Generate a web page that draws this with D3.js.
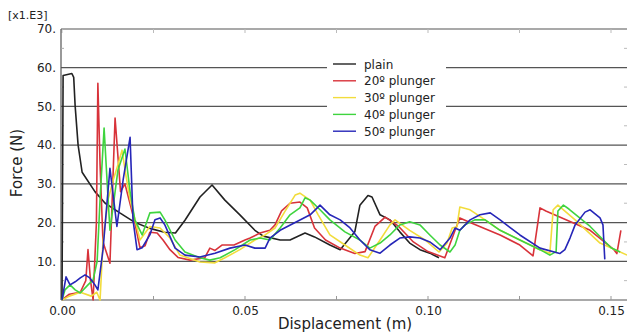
<!DOCTYPE html>
<html>
<head>
<meta charset="utf-8">
<script src="https://cdn.jsdelivr.net/npm/d3@7"></script>
<style>
  body { margin: 0; background: #fff; }
  text { font-family: "DejaVu Sans", Verdana, sans-serif; fill: #222; }
</style>
</head>
<body>
<div id="canvas"></div>
<script>
// force in x1.E3 N, displacement in m
const yTicks = [10, 20, 30, 40, 50, 60, 70];
const xTicks = [0, 0.05, 0.10, 0.15];
const seriesNames = ["plain", "20º plunger", "30º plunger", "40º plunger", "50º plunger"];
const seriesColors = ["#222222", "#d8333a", "#f2dc3c", "#3fd43f", "#2626b8"];

const plain = [[0,0],[0.0003,58],[0.0027,58.5],[0.0032,57.5],[0.0036,50],[0.0044,40],[0.0055,33],[0.009,28],[0.0118,25],[0.0158,22.5],[0.02,20],[0.024,18.5],[0.028,17.5],[0.031,17.3],[0.0336,20.6],[0.0377,26.6],[0.041,29.7],[0.0445,25.8],[0.0486,22],[0.0527,18],[0.055,16.5],[0.0596,15.5],[0.0623,15.5],[0.0664,17.3],[0.069,16.3],[0.0732,14.2],[0.076,13],[0.08,17.6],[0.0814,24.5],[0.0836,27],[0.0847,26.6],[0.0869,22],[0.0896,20.7],[0.0923,17.6],[0.095,14.7],[0.0978,13],[0.1005,12.1],[0.103,10.9]];

const plunger20 = [[0,0],[0.002,1.5],[0.005,2],[0.0065,5],[0.0071,13],[0.0078,5],[0.0085,0],[0.0094,20],[0.0098,56],[0.0104,35],[0.0112,15],[0.0131,9.5],[0.0145,47],[0.016,28],[0.0172,30],[0.0199,20],[0.0213,13.5],[0.0227,14],[0.024,17.5],[0.026,17.3],[0.0276,15.5],[0.0295,13],[0.0317,11],[0.035,10.3],[0.039,10.9],[0.0404,13.4],[0.0418,12.8],[0.0437,14.2],[0.047,14.2],[0.05,15.5],[0.0514,16],[0.0541,17.3],[0.0568,18],[0.0582,19.4],[0.06,23],[0.0623,25],[0.065,25.3],[0.067,23.8],[0.069,18.6],[0.072,15.5],[0.076,13.4],[0.08,12],[0.0828,12.5],[0.0855,19],[0.0883,21.4],[0.092,19],[0.096,15],[0.1,12.5],[0.1046,10.9],[0.1074,18],[0.1087,21.2],[0.1115,20],[0.1197,16.8],[0.1251,14.2],[0.1287,11.4],[0.1306,23.8],[0.1322,23],[0.1443,18],[0.1508,13],[0.1516,12],[0.1527,18]];

const plunger30 = [[0,0],[0.002,1],[0.005,2],[0.008,1],[0.0095,2],[0.0104,0],[0.0112,15],[0.0126,26],[0.014,31],[0.0153,35],[0.0164,38.7],[0.0175,32],[0.0186,26],[0.0213,15.5],[0.024,19],[0.0268,18.6],[0.0295,16],[0.0322,11.6],[0.0377,9.8],[0.0418,9.6],[0.0445,10.9],[0.0486,13],[0.0527,15.5],[0.0555,16.8],[0.0582,18.6],[0.061,23],[0.0637,27.1],[0.065,27.6],[0.0678,25.8],[0.07,22],[0.0732,16.8],[0.0773,14.2],[0.0814,11.6],[0.0836,10.9],[0.0869,15.5],[0.0896,19.4],[0.091,20.7],[0.095,18],[0.0992,15.5],[0.103,12.4],[0.1052,14.7],[0.1066,18.6],[0.1079,18.9],[0.1087,24],[0.1115,23.3],[0.1156,20.7],[0.1197,18],[0.1251,15.5],[0.1306,13],[0.1333,12.1],[0.1342,23.3],[0.1355,24.5],[0.1402,20.7],[0.147,14.7],[0.1544,11.6]];

const plunger40 = [[0,0],[0.0008,2.6],[0.0022,3.9],[0.0036,2.6],[0.005,1.8],[0.0071,3.9],[0.0085,5.2],[0.0096,10],[0.0104,26],[0.0115,44.4],[0.0126,26],[0.0131,18],[0.0153,33.6],[0.0172,39],[0.0186,28],[0.0199,20.7],[0.0219,16.8],[0.024,22.5],[0.0268,22.7],[0.0281,20.7],[0.0309,15.5],[0.0336,12.4],[0.0377,10.9],[0.0404,10.3],[0.0432,10.9],[0.0473,13],[0.0514,15.5],[0.0541,16],[0.0568,15.5],[0.0596,18.6],[0.0623,22],[0.065,23.8],[0.0664,26.4],[0.0678,25.8],[0.0705,23.3],[0.0732,20.7],[0.0773,17.6],[0.0814,15.5],[0.0841,13.4],[0.0869,14.7],[0.0896,16.8],[0.0923,19.4],[0.095,20.2],[0.0978,19.4],[0.1005,16.8],[0.1033,14.2],[0.106,12.4],[0.1074,14.2],[0.1087,18],[0.1101,19.4],[0.1128,20.7],[0.1156,20.7],[0.1197,18],[0.1251,15.5],[0.1306,13],[0.1333,11.6],[0.135,12.5],[0.1355,23],[0.137,24.5],[0.1385,23.5],[0.1443,19],[0.15,13.5],[0.1525,12.4]];

const plunger50 = [[0,0],[0.0011,6],[0.0022,3.9],[0.0036,4.7],[0.005,5.7],[0.0063,6.5],[0.0076,5.7],[0.009,3.9],[0.0098,2.6],[0.0112,13],[0.0131,34],[0.015,19],[0.0167,31],[0.0186,42],[0.0194,20.7],[0.0205,13],[0.0219,13.5],[0.024,16.8],[0.0254,20.7],[0.0268,21.2],[0.0281,19.4],[0.0309,13.4],[0.0336,11.6],[0.0377,11.1],[0.0418,12.1],[0.0459,13.4],[0.05,14.2],[0.0527,13.4],[0.0555,13.4],[0.0568,16],[0.0596,18],[0.0637,20],[0.0678,22],[0.0705,24.5],[0.0732,22],[0.076,20.7],[0.0787,18.6],[0.0814,15.5],[0.0841,13],[0.0869,12.1],[0.0896,14.2],[0.0923,16],[0.095,16.3],[0.0978,16],[0.1005,15],[0.1033,13],[0.106,16],[0.1074,18.6],[0.1087,18],[0.1115,20.7],[0.1142,22],[0.117,22.5],[0.1197,20.7],[0.1251,16.8],[0.1306,13.4],[0.136,12],[0.1374,13],[0.1388,16],[0.1402,19.4],[0.1429,22.7],[0.1443,23.3],[0.147,21.2],[0.1478,19.4],[0.1483,10.5]];

const allSeries = [plain, plunger20, plunger30, plunger40, plunger50];

const width = 627, height = 333;
const plotLeft = 61, plotRight = 627, plotTop = 29, plotBottom = 300;

let svg = d3.select("#canvas").append("svg")
    .attr("width", width)
    .attr("height", height);

let xScale = d3.scaleLinear().domain([0, 0.15]).range([62, 611]);
let yScale = d3.scaleLinear().domain([0, 70]).range([plotBottom, plotTop]);

// horizontal grid lines
svg.append("g")
    .selectAll("line")
    .data(yTicks)
    .enter().append("line")
    .attr("x1", plotLeft).attr("x2", plotRight)
    .attr("y1", d => yScale(d)).attr("y2", d => yScale(d))
    .attr("stroke", "#555").attr("stroke-width", 1.2);

// x axis
let xAxis = svg.append("g")
    .attr("transform", "translate(0," + plotBottom + ")")
    .call(d3.axisBottom(xScale).tickValues(xTicks).tickFormat(d3.format(".2f")).tickSize(0).tickPadding(6));
xAxis.select(".domain").attr("d", "M" + plotLeft + ",0H" + plotRight).attr("stroke", "#555").attr("stroke-width", 1.2);
xAxis.selectAll("text").attr("font-size", 12).attr("fill", "#222");

// minor ticks top and bottom
let minorX = d3.range(0, 0.151, 0.025);
svg.append("g").selectAll("line").data(minorX).enter().append("line")
    .attr("x1", d => xScale(d)).attr("x2", d => xScale(d))
    .attr("y1", plotBottom).attr("y2", plotBottom - 4)
    .attr("stroke", "#999");
svg.append("g").selectAll("line").data(minorX).enter().append("line")
    .attr("x1", d => xScale(d)).attr("x2", d => xScale(d))
    .attr("y1", plotTop).attr("y2", plotTop + 4)
    .attr("stroke", "#bbb");

// y axis
let yAxis = svg.append("g")
    .attr("transform", "translate(" + plotLeft + ",0)")
    .call(d3.axisLeft(yScale).tickValues(yTicks).tickFormat(d => d + ".").tickSize(0).tickPadding(5));
yAxis.select(".domain").attr("d", "M0," + plotTop + "V" + plotBottom).attr("stroke", "#555").attr("stroke-width", 1.2);
yAxis.selectAll("text").attr("font-size", 12).attr("fill", "#222");

// minor ticks left and right
let minorY = d3.range(5, 70, 10);
svg.append("g").selectAll("line").data(minorY).enter().append("line")
    .attr("x1", plotLeft).attr("x2", plotLeft + 3)
    .attr("y1", d => yScale(d)).attr("y2", d => yScale(d))
    .attr("stroke", "#aaa");
svg.append("g").selectAll("line").data(minorY).enter().append("line")
    .attr("x1", plotRight - 3).attr("x2", plotRight)
    .attr("y1", d => yScale(d)).attr("y2", d => yScale(d))
    .attr("stroke", "#bbb");

svg.append("text")
    .attr("x", 8).attr("y", 19)
    .attr("font-size", 11)
    .text("[x1.E3]");

// axis titles
svg.append("text")
    .attr("transform", "translate(22,163) rotate(-90)")
    .attr("text-anchor", "middle")
    .attr("font-size", 15)
    .text("Force (N)");

svg.append("text")
    .attr("x", 345).attr("y", 329)
    .attr("text-anchor", "middle")
    .attr("font-size", 15)
    .text("Displacement (m)");

// curves
let line = d3.line()
    .x(d => xScale(d[0]))
    .y(d => yScale(d[1]));

svg.append("g")
    .selectAll("path")
    .data(allSeries)
    .enter().append("path")
    .attr("d", d => line(d))
    .attr("fill", "none")
    .attr("stroke", (d, i) => seriesColors[i])
    .attr("stroke-width", 1.6)
    .attr("stroke-linejoin", "round");

// legend
let legendG = svg.append("g");
legendG.append("rect")
    .attr("x", 327).attr("y", 55)
    .attr("width", 119).attr("height", 85)
    .attr("fill", "#fff");

let rows = legendG.selectAll("g.row")
    .data(seriesNames)
    .enter().append("g")
    .attr("class", "row")
    .attr("transform", (d, i) => "translate(333," + (64 + i * 16.8) + ")");
rows.append("line")
    .attr("x1", 0).attr("x2", 23)
    .attr("stroke", (d, i) => seriesColors[i])
    .attr("stroke-width", 1.4);
rows.append("text")
    .attr("x", 31).attr("y", 4.5)
    .attr("font-size", 12)
    .text(d => d);
</script>
</body>
</html>
